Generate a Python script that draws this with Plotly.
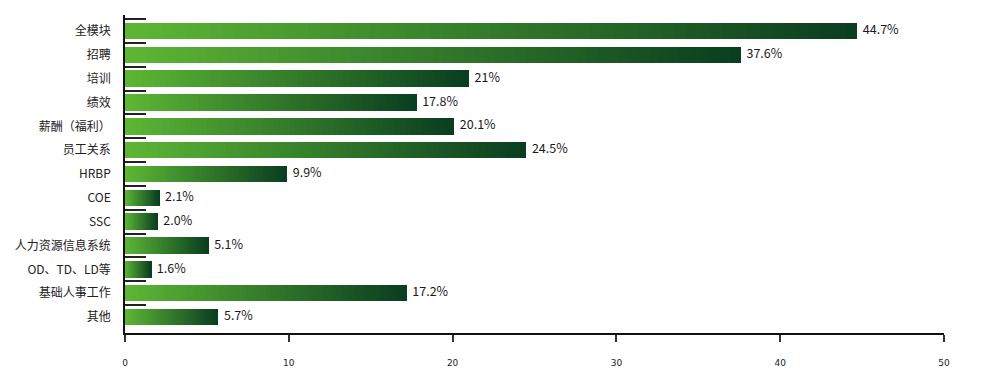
import plotly.graph_objects as go

categories = ["全模块", "招聘", "培训", "绩效", "薪酬（福利）", "员工关系", "HRBP", "COE", "SSC",
              "人力资源信息系统", "OD、TD、LD等", "基础人事工作", "其他"]
values = [44.7, 37.6, 21.0, 17.8, 20.1, 24.5, 9.9, 2.1, 2.0, 5.1, 1.6, 17.2, 5.7]
value_labels = ["44.7%", "37.6%", "21%", "17.8%", "20.1%", "24.5%", "9.9%", "2.1%", "2.0%",
                "5.1%", "1.6%", "17.2%", "5.7%"]
x_ticks = [0, 10, 20, 30, 40, 50]

light = (92, 182, 52)
dark = (10, 62, 32)
N = 60

fig = go.Figure()
for k in range(N):
    t = k / (N - 1)
    c = tuple(round(light[i] + (dark[i] - light[i]) * t) for i in range(3))
    fig.add_trace(go.Bar(
        y=categories, x=[v / N for v in values], orientation="h",
        marker=dict(color="rgb(%d,%d,%d)" % c, line=dict(width=0)),
        showlegend=False, hoverinfo="skip"))

fig.add_trace(go.Scatter(
    y=categories, x=values, mode="text", text=["  " + s for s in value_labels],
    textposition="middle right", showlegend=False,
    textfont=dict(family="Noto Sans CJK SC", size=12.5, color="#1a1a1a"), cliponaxis=False))

fig.update_layout(
    width=994, height=365, barmode="stack", bargap=0.31,
    paper_bgcolor="white", plot_bgcolor="white",
    margin=dict(l=117, r=58, t=7, b=40, autoexpand=False),
    font=dict(family="Noto Sans CJK SC", color="#222"),
)
fig.update_xaxes(range=[0, 50], tickvals=x_ticks, showgrid=False, zeroline=False, automargin=False,
                 showline=True, linecolor="#111", linewidth=1.5,
                 ticks="outside", ticklen=7, tickcolor="#333", tickwidth=1.5,
                 tickfont=dict(size=9, color="#222", family="DejaVu Sans"), ticklabelstandoff=13)
fig.update_yaxes(autorange="reversed", showgrid=False, zeroline=False, automargin=False,
                 showline=True, linecolor="#111", linewidth=1.5,
                 ticks="inside", tickson="boundaries", ticklen=21, tickcolor="#222", tickwidth=1.5,
                 tickfont=dict(size=12, color="#222"), ticklabelstandoff=10)

fig.write_html("out.html")
